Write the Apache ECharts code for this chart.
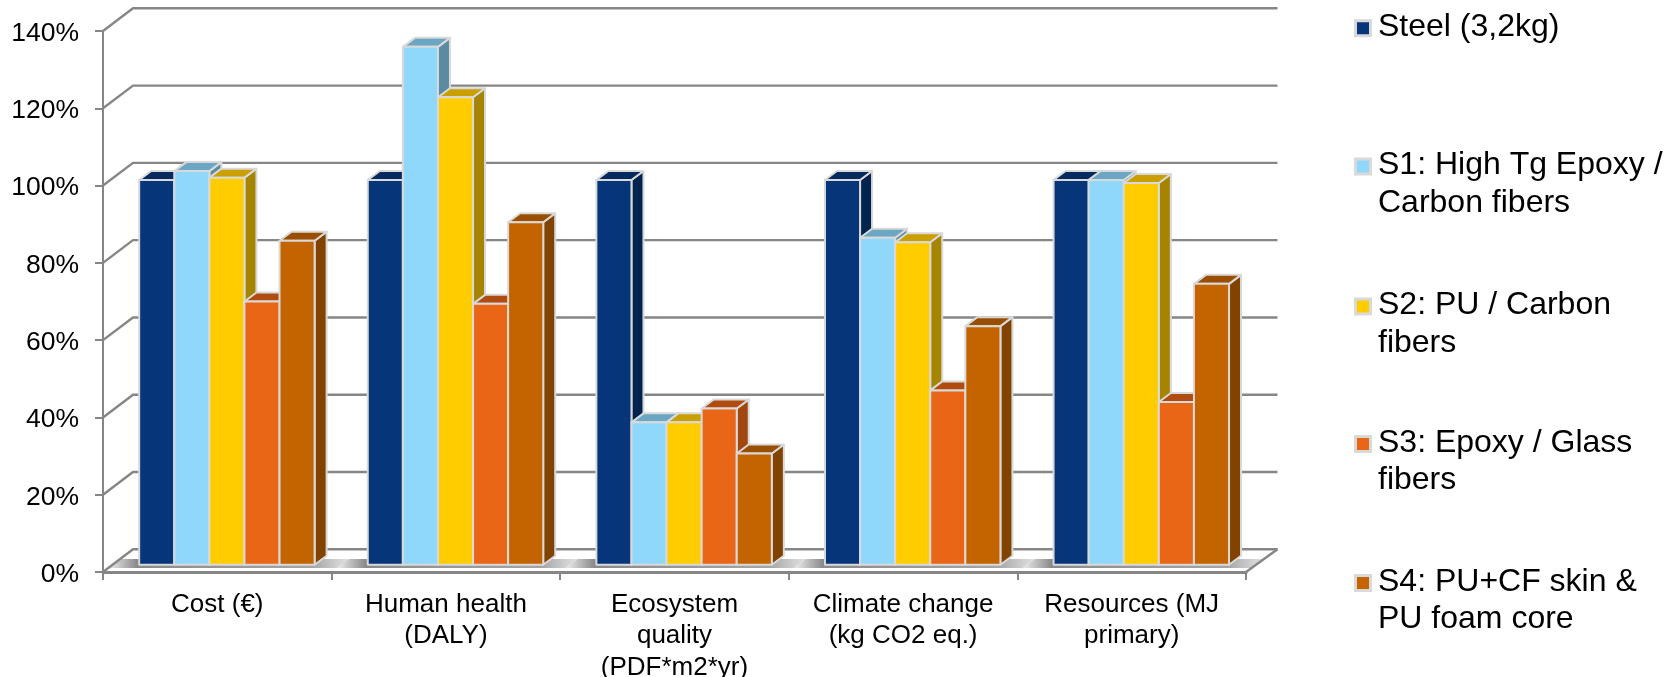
<!DOCTYPE html>
<html>
<head>
<meta charset="utf-8">
<style>html,body{margin:0;padding:0;background:#fff}#chart{width:1675px;height:677px}</style>
<script src="https://cdn.jsdelivr.net/npm/echarts@6/dist/echarts.min.js"></script>
</head>
<body>
<div id="chart"></div>
<script>
// Impact categories and tick values
const categories = ['Cost (€)', 'Human health\n(DALY)', 'Ecosystem\nquality\n(PDF*m2*yr)', 'Climate change\n(kg CO2 eq.)', 'Resources (MJ\nprimary)'];
const wallTicks = [0, 20, 40, 60, 80, 100, 120, 140];

// Relative scores per design, in percent of the steel reference
const steel = [100, 100, 100, 100, 100];
const s1 = [102.3, 134.6, 37, 85, 100];
const s2 = [100.6, 121.5, 37, 83.8, 99.2];
const s3 = [68.4, 67.8, 40.6, 45.3, 42.3];
const s4 = [84.2, 89, 28.9, 62, 73];

const seriesNames = ['Steel (3,2kg)', 'S1: High Tg Epoxy /\nCarbon fibers', 'S2: PU / Carbon\nfibers', 'S3: Epoxy / Glass\nfibers', 'S4: PU+CF skin &\nPU foam core'];
const seriesValues = [steel, s1, s2, s3, s4];

// Face colours: front, top, side
const palette = [
  ['#06357A', '#042A60', '#03234F'],
  ['#8FD8FC', '#6BA7C3', '#5B8AA3'],
  ['#FFCC00', '#C9A000', '#A58400'],
  ['#E96616', '#B04C10', '#A34710'],
  ['#C46400', '#9A4E00', '#824200']
];

const FONT = '"Liberation Sans", Arial, sans-serif';
const EDGE = '#D9D9D9';
const AXIS = '#868686';

// Oblique projection used for the 3D look
const WALL_DX_L = 30, WALL_DX_R = 31.5, WALL_DY = 22.7;
const BAR_SHIFT_X = 9.6, BAR_SHIFT_Y = 7.3, BAR_SCALE = 0.9956;
const BAR_FRACTION = 0.1535, DEPTH_X = 12, DEPTH_Y = 9;

function barRenderer(index) {
  return function (params, api) {
    const cat = api.value(0), val = api.value(1);
    const p = api.coord([cat, val]);
    const zero = api.coord([cat, 0]);
    const step = api.size([1, 0])[0];
    const w = step * BAR_FRACTION;
    const x0 = p[0] + BAR_SHIFT_X + (index - 2.5) * w;
    const x1 = x0 + w;
    const yB = zero[1] - BAR_SHIFT_Y;
    const yT = yB - (zero[1] - p[1]) * BAR_SCALE;
    const c = palette[index];
    const st = (fill) => ({ fill: fill, stroke: EDGE, lineWidth: 2, lineJoin: 'round' });
    return {
      type: 'group',
      children: [
        { type: 'polygon', shape: { points: [[x1, yT], [x1 + DEPTH_X, yT - DEPTH_Y], [x1 + DEPTH_X, yB - DEPTH_Y], [x1, yB]] }, style: st(c[2]) },
        { type: 'polygon', shape: { points: [[x0, yT], [x0 + DEPTH_X, yT - DEPTH_Y], [x1 + DEPTH_X, yT - DEPTH_Y], [x1, yT]] }, style: st(c[1]) },
        { type: 'rect', shape: { x: x0, y: yT, width: w, height: yB - yT }, style: st(c[0]) }
      ]
    };
  };
}

// Gridlines running back along the side wall and across the rear wall
function wallRenderer(params, api) {
  const v = api.value(0);
  const p = api.coord([0, v]);
  const cs = params.coordSys;
  const left = cs.x, right = cs.x + cs.width;
  const line = {
    type: 'polyline',
    shape: { points: [[left, p[1]], [left + WALL_DX_L, p[1] - WALL_DY], [right + WALL_DX_R, p[1] - WALL_DY]] },
    style: { fill: 'none', stroke: AXIS, lineWidth: 2.4 }
  };
  if (v !== 0) return line;
  // The lowest level also closes the floor on the right-hand side
  return {
    type: 'group',
    children: [line, {
      type: 'line',
      shape: { x1: right, y1: p[1], x2: right + WALL_DX_R, y2: p[1] - WALL_DY },
      style: { stroke: AXIS, lineWidth: 2.4 }
    }]
  };
}

// Floor slab with a soft sheen at each category boundary
function floorRenderer(params, api) {
  const p = api.coord([api.value(0), 0]);
  const step = api.size([1, 0])[0];
  const x0 = p[0] - step / 2, x1 = p[0] + step / 2;
  const yF = p[1] - 4, yB = p[1] - 13;
  return {
    type: 'polygon',
    shape: { points: [[x0 + 5, yF], [x0 + 17.5, yB], [x1 + 17.5, yB], [x1 + 5, yF]] },
    style: {
      fill: new echarts.graphic.LinearGradient(0, 0, 1, 0, [
        { offset: 0, color: '#D8D8D8' },
        { offset: 0.015, color: '#E2E2E2' },
        { offset: 0.12, color: '#8A8A8A' },
        { offset: 0.85, color: '#A5A5A5' },
        { offset: 0.95, color: '#D0D0D0' },
        { offset: 1, color: '#E0E0E0' }
      ])
    }
  };
}

const series = [
  {
    type: 'custom', name: 'floor', silent: true, z: 1, clip: false,
    renderItem: floorRenderer,
    data: categories.map((c, i) => [i])
  },
  {
    type: 'custom', name: 'walls', silent: true, z: 2, clip: false,
    renderItem: wallRenderer,
    data: wallTicks.map((v) => [v])
  }
];
seriesNames.forEach((name, i) => {
  series.push({
    type: 'custom', name: name, z: 4 + i, clip: false,
    renderItem: barRenderer(i),
    encode: { x: 0, y: 1 },
    data: seriesValues[i].map((v, k) => [k, v])
  });
});

// Legend column: swatch beside the first line of each wrapped label
const legendTop = [26.7, 165, 305, 442.5, 581.5];
const legendGraphics = [];
seriesNames.forEach((name, i) => {
  legendGraphics.push({
    type: 'rect', left: 1354, top: legendTop[i] - 7.5, shape: { width: 15, height: 15 },
    style: { fill: palette[i][0], stroke: EDGE, lineWidth: 3 }
  });
  legendGraphics.push({
    type: 'text', left: 1378, top: legendTop[i] - 18.5,
    style: { text: name, font: '32px ' + FONT, fill: '#000', lineHeight: 37.5 }
  });
});

const chart = echarts.init(document.getElementById('chart'), null, { renderer: 'canvas' });
chart.setOption({
  animation: false,
  backgroundColor: '#fff',
  grid: { left: 103, right: 429, top: 31, bottom: 105, containLabel: false, outerBoundsMode: 'none' },
  xAxis: {
    type: 'category', data: categories,
    axisLine: { show: true, onZero: false, lineStyle: { color: AXIS, width: 3 } },
    axisTick: { show: true, length: 8, alignWithLabel: false, lineStyle: { color: AXIS, width: 2 } },
    axisLabel: { color: '#000', fontFamily: FONT, fontSize: 26, lineHeight: 31.5, margin: 17, interval: 0 },
    splitLine: { show: false }
  },
  yAxis: {
    type: 'value', min: 0, max: 140, interval: 20,
    axisLine: { show: true, lineStyle: { color: AXIS, width: 2 } },
    axisTick: { show: true, length: 8, lineStyle: { color: AXIS, width: 2 } },
    // A short line box aligned to the tick sets the label just below the tick centre
    axisLabel: { color: '#000', fontFamily: FONT, fontSize: 26.5, margin: 24, verticalAlign: 'top', lineHeight: 5, formatter: '{value}%' },
    splitLine: { show: false }
  },
  series: series,
  graphic: { elements: legendGraphics }
});
</script>
</body>
</html>
